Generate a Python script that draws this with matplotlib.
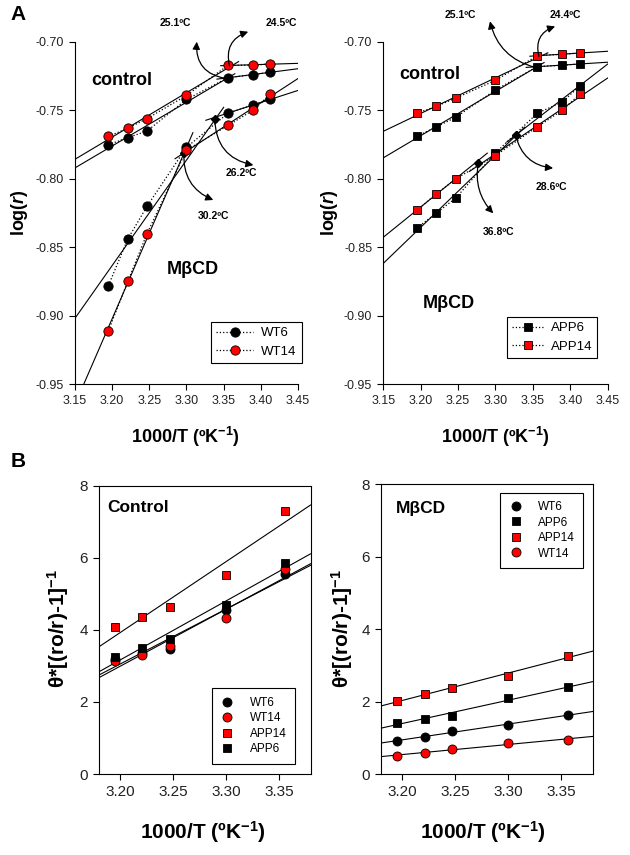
import numpy as np
import matplotlib.pyplot as plt
from matplotlib.ticker import FormatStrFormatter

plt.rcParams['font.family'] = ['Liberation Sans', 'DejaVu Sans']
plt.rcParams['mathtext.fontset'] = 'custom'
plt.rcParams['mathtext.rm'] = 'Liberation Sans:bold'
plt.rcParams['mathtext.bf'] = 'Liberation Sans:bold'
plt.rcParams['mathtext.it'] = 'Liberation Sans:italic:bold'
plt.rcParams['axes.unicode_minus'] = False

# ---- data -------------------------------------------------------------
inv_T = [3.195, 3.221, 3.247, 3.300, 3.356, 3.389, 3.413]

# panel A, log(r)
wt6_ctrl = [-0.775, -0.770, -0.765, -0.742, -0.726, -0.724, -0.722]
wt14_ctrl = [-0.769, -0.763, -0.756, -0.739, -0.717, -0.717, -0.716]
wt6_mbcd = [-0.878, -0.844, -0.820, -0.777, -0.752, -0.746, -0.742]
wt14_mbcd = [-0.911, -0.875, -0.840, -0.779, -0.761, -0.750, -0.738]

app6_ctrl = [-0.769, -0.762, -0.755, -0.735, -0.718, -0.717, -0.716]
app14_ctrl = [-0.752, -0.747, -0.741, -0.728, -0.710, -0.709, -0.708]
app6_mbcd = [-0.836, -0.825, -0.814, -0.781, -0.752, -0.744, -0.732]
app14_mbcd = [-0.823, -0.811, -0.800, -0.783, -0.762, -0.750, -0.738]

# index of the point shared by the high-T and low-T fits
split_wt6_ctrl, split_wt14_ctrl, split_wt6_mbcd, split_wt14_mbcd = 4, 4, 4, 3
split_app6_ctrl, split_app14_ctrl, split_app6_mbcd, split_app14_mbcd = 4, 4, 3, 2

# marked transition points (1000/T)
bp_wt6_ctrl, bp_wt14_ctrl = 3.353, 3.358
bp_wt6_mbcd, bp_wt14_mbcd = 3.338, 3.2966
bp_app6_ctrl, bp_app14_ctrl = 3.353, 3.358
bp_app6_mbcd, bp_app14_mbcd = 3.327, 3.277

# panel B
inv_T_b = [3.195, 3.221, 3.247, 3.300, 3.356]
b_ctrl_wt6 = [3.20, 3.36, 3.46, 4.55, 5.54]
b_ctrl_wt14 = [3.14, 3.30, 3.55, 4.32, 5.68]
b_ctrl_app14 = [4.09, 4.35, 4.63, 5.52, 7.30]
b_ctrl_app6 = [3.26, 3.49, 3.75, 4.69, 5.85]

b_mbcd_wt6 = [0.90, 1.03, 1.20, 1.34, 1.63]
b_mbcd_app6 = [1.42, 1.51, 1.60, 2.10, 2.39]
b_mbcd_app14 = [2.01, 2.20, 2.38, 2.71, 3.26]
b_mbcd_wt14 = [0.51, 0.58, 0.68, 0.86, 0.94]

RED = '#ff0000'


def draw_series(ax, y, split, bp, marker, color, label, diamond=False):
    x = np.array(inv_T)
    y = np.array(y)
    hi = np.polyfit(x[:split + 1], y[:split + 1], 1)
    lo = np.polyfit(x[split:], y[split:], 1)
    ext = 0.012
    x1 = np.linspace(3.15, bp + ext, 50)
    x2 = np.linspace(bp - ext, 3.45, 50)
    ax.plot(x1, np.polyval(hi, x1), color='k', lw=0.8, zorder=1)
    ax.plot(x2, np.polyval(lo, x2), color='k', lw=0.8, zorder=1)
    ax.plot(x, y, ls=':', color='k', lw=0.9, marker=marker,
            ms=6.7 if marker == 'o' else 6.2,
            mfc=color, mec='k', mew=0.6, label=label, zorder=3)
    ybp = 0.5 * (np.polyval(hi, bp) + np.polyval(lo, bp))
    if diamond:
        ax.plot([bp], [ybp], marker='D', color='k', ms=4, ls='none', zorder=2.5)
    return bp, ybp


def arrow(ax, tail, head, rad, text, tpos):
    ax.annotate('', xy=head, xytext=tail, annotation_clip=False,
                arrowprops=dict(arrowstyle='-|>', color='k', lw=0.9, mutation_scale=11,
                                shrinkA=0, shrinkB=0,
                                connectionstyle='arc3,rad=%s' % rad))
    ax.text(tpos[0], tpos[1], text, fontsize=7.5, fontweight='bold',
            ha='center', va='center')


def style_top(ax):
    ax.set_xlim(3.15, 3.45)
    ax.set_ylim(-0.95, -0.70)
    ax.set_xticks(np.arange(3.15, 3.451, 0.05))
    ax.set_yticks(np.arange(-0.95, -0.699, 0.05))
    ax.xaxis.set_major_formatter(FormatStrFormatter('%.2f'))
    ax.yaxis.set_major_formatter(FormatStrFormatter('%.2f'))
    ax.spines['top'].set_visible(False)
    ax.spines['right'].set_visible(False)
    ax.tick_params(direction='out', length=4.5, width=0.8, labelsize=9,
                   labelcolor='#222222')


def style_bottom(ax):
    ax.set_xlim(3.18, 3.38)
    ax.set_ylim(0, 8)
    ax.set_xticks([3.20, 3.25, 3.30, 3.35])
    ax.set_yticks([0, 2, 4, 6, 8])
    ax.xaxis.set_major_formatter(FormatStrFormatter('%.2f'))
    ax.tick_params(direction='out', length=4.5, width=0.8, labelsize=11,
                   labelcolor='#222222')


W, H = 630, 855
fig = plt.figure(figsize=(6.3, 8.55), dpi=100)
axA1 = fig.add_axes([75 / W, 1 - 384 / H, 223 / W, 342 / H])
axA2 = fig.add_axes([383.3 / W, 1 - 384 / H, 224.4 / W, 342 / H])
axB1 = fig.add_axes([99 / W, 1 - 774 / H, 211.5 / W, 288.3 / H])
axB2 = fig.add_axes([381 / W, 1 - 774 / H, 212.3 / W, 290 / H])

# ---- A left: WT ---------------------------------------------------------
ax = axA1
style_top(ax)
p_wt6c = draw_series(ax, wt6_ctrl, split_wt6_ctrl, bp_wt6_ctrl, 'o', 'k', 'WT6')
p_wt14c = draw_series(ax, wt14_ctrl, split_wt14_ctrl, bp_wt14_ctrl, 'o', RED, 'WT14')
p_wt6m = draw_series(ax, wt6_mbcd, split_wt6_mbcd, bp_wt6_mbcd, 'o', 'k', '_nolegend_', diamond=True)
p_wt14m = draw_series(ax, wt14_mbcd, split_wt14_mbcd, bp_wt14_mbcd, 'o', RED, '_nolegend_', diamond=True)
arrow(ax, p_wt6c, (3.3138, -0.6998), -0.45, '25.1ºC', (3.2846, -0.6859))
arrow(ax, p_wt14c, (3.383, -0.6925), -0.45, '24.5ºC', (3.428, -0.6859))
arrow(ax, p_wt6m, (3.390, -0.790), 0.4, '26.2ºC', (3.3744, -0.7955))
arrow(ax, p_wt14m, (3.336, -0.8155), 0.35, '30.2ºC', (3.336, -0.8272))
ax.text(3.2128, -0.7285, 'control', fontsize=13, fontweight='bold', ha='center', va='center')
ax.text(3.309, -0.866, 'MβCD', fontsize=13, fontweight='bold', ha='center', va='center')
leg = ax.legend(loc='upper right', bbox_to_anchor=(1.017, 0.182), fontsize=9.5,
                handlelength=2.8, handletextpad=0.6, borderaxespad=0,
                fancybox=False, framealpha=1, edgecolor='k')
leg.get_frame().set_linewidth(0.8)

# ---- A right: APP -------------------------------------------------------
ax = axA2
style_top(ax)
p_a6c = draw_series(ax, app6_ctrl, split_app6_ctrl, bp_app6_ctrl, 's', 'k', 'APP6')
p_a14c = draw_series(ax, app14_ctrl, split_app14_ctrl, bp_app14_ctrl, 's', RED, 'APP14')
p_a6m = draw_series(ax, app6_mbcd, split_app6_mbcd, bp_app6_mbcd, 's', 'k', '_nolegend_', diamond=True)
p_a14m = draw_series(ax, app14_mbcd, split_app14_mbcd, bp_app14_mbcd, 's', RED, '_nolegend_', diamond=True)
arrow(ax, p_a6c, (3.2926, -0.6849), -0.3, '25.1ºC', (3.2525, -0.680))
arrow(ax, p_a14c, (3.3797, -0.6886), -0.45, '24.4ºC', (3.393, -0.680))
arrow(ax, p_a6m, (3.377, -0.7922), 0.35, '28.6ºC', (3.375, -0.8057))
arrow(ax, p_a14m, (3.297, -0.8252), 0.25, '36.8ºC', (3.3038, -0.8387))
ax.text(3.2126, -0.7234, 'control', fontsize=13, fontweight='bold', ha='center', va='center')
ax.text(3.237, -0.891, 'MβCD', fontsize=13, fontweight='bold', ha='center', va='center')
leg = ax.legend(loc='upper right', bbox_to_anchor=(0.954, 0.197), fontsize=9.5,
                handlelength=2.3, handletextpad=0.6, borderaxespad=0,
                fancybox=False, framealpha=1, edgecolor='k')
leg.get_frame().set_linewidth(0.8)


# ---- B --------------------------------------------------------------------
def bottom_series(ax, y, marker, color, label):
    x = np.array(inv_T_b)
    k, m = np.polyfit(x, y, 1)
    xl = np.array([3.18, 3.38])
    ax.plot(xl, k * xl + m, color='k', lw=0.8, zorder=1)
    h, = ax.plot(x, y, ls='none', marker=marker, ms=6.5 if marker == 'o' else 6,
                 mfc=color, mec='k', mew=0.6, label=label, zorder=3)
    return h


leg_kw = dict(loc='upper right', fontsize=8.5, handlelength=1.2, handletextpad=1.3,
              labelspacing=0.3, borderaxespad=0, borderpad=0.7, fancybox=False,
              framealpha=1, edgecolor='k')

ax = axB1
style_bottom(ax)
h1 = bottom_series(ax, b_ctrl_wt6, 'o', 'k', 'WT6')
h2 = bottom_series(ax, b_ctrl_wt14, 'o', RED, 'WT14')
h3 = bottom_series(ax, b_ctrl_app14, 's', RED, 'APP14')
h4 = bottom_series(ax, b_ctrl_app6, 's', 'k', 'APP6')
ax.text(3.188, 7.40, 'Control', fontsize=12.5, fontweight='bold', ha='left', va='center')
leg = ax.legend(handles=[h1, h2, h3, h4], bbox_to_anchor=(0.927, 0.297), **leg_kw)
leg.get_frame().set_linewidth(0.8)

ax = axB2
style_bottom(ax)
g1 = bottom_series(ax, b_mbcd_wt6, 'o', 'k', 'WT6')
g2 = bottom_series(ax, b_mbcd_app6, 's', 'k', 'APP6')
g3 = bottom_series(ax, b_mbcd_app14, 's', RED, 'APP14')
g4 = bottom_series(ax, b_mbcd_wt14, 'o', RED, 'WT14')
ax.text(3.194, 7.33, 'MβCD', fontsize=12.5, fontweight='bold', ha='left', va='center')
leg = ax.legend(handles=[g1, g2, g3, g4], bbox_to_anchor=(0.953, 0.970), **leg_kw)
leg.get_frame().set_linewidth(0.8)

# ---- labels -------------------------------------------------------------
xlab = '1000/T (ºK$^{\\mathbf{-1}}$)'
ylab_b = '$\\mathbf{\\theta}$*[(ro/r)-1]$^{\\mathbf{-1}}$'
fig.text(185 / W, 1 - 436.7 / H, xlab, fontsize=13, fontweight='bold', ha='center', va='center')
fig.text(495 / W, 1 - 436.7 / H, xlab, fontsize=13, fontweight='bold', ha='center', va='center')
fig.text(203.3 / W, 1 - 831.7 / H, xlab, fontsize=15, fontweight='bold', ha='center', va='center')
fig.text(483.3 / W, 1 - 831.7 / H, xlab, fontsize=15, fontweight='bold', ha='center', va='center')
fig.text(20 / W, 1 - 213 / H, 'log($r$)', fontsize=13, fontweight='bold', rotation=90,
         ha='center', va='center')
fig.text(330 / W, 1 - 213 / H, 'log($r$)', fontsize=13, fontweight='bold', rotation=90,
         ha='center', va='center')
fig.text(58 / W, 1 - 629 / H, ylab_b, fontsize=15, fontweight='bold', rotation=90,
         ha='center', va='center')
fig.text(342 / W, 1 - 629 / H, ylab_b, fontsize=15, fontweight='bold', rotation=90,
         ha='center', va='center')
fig.text(18 / W, 1 - 15 / H, 'A', fontsize=15, fontweight='bold', ha='center', va='center')
fig.text(18 / W, 1 - 461.7 / H, 'B', fontsize=15, fontweight='bold', ha='center', va='center')

fig.savefig('out.png', dpi=100)
